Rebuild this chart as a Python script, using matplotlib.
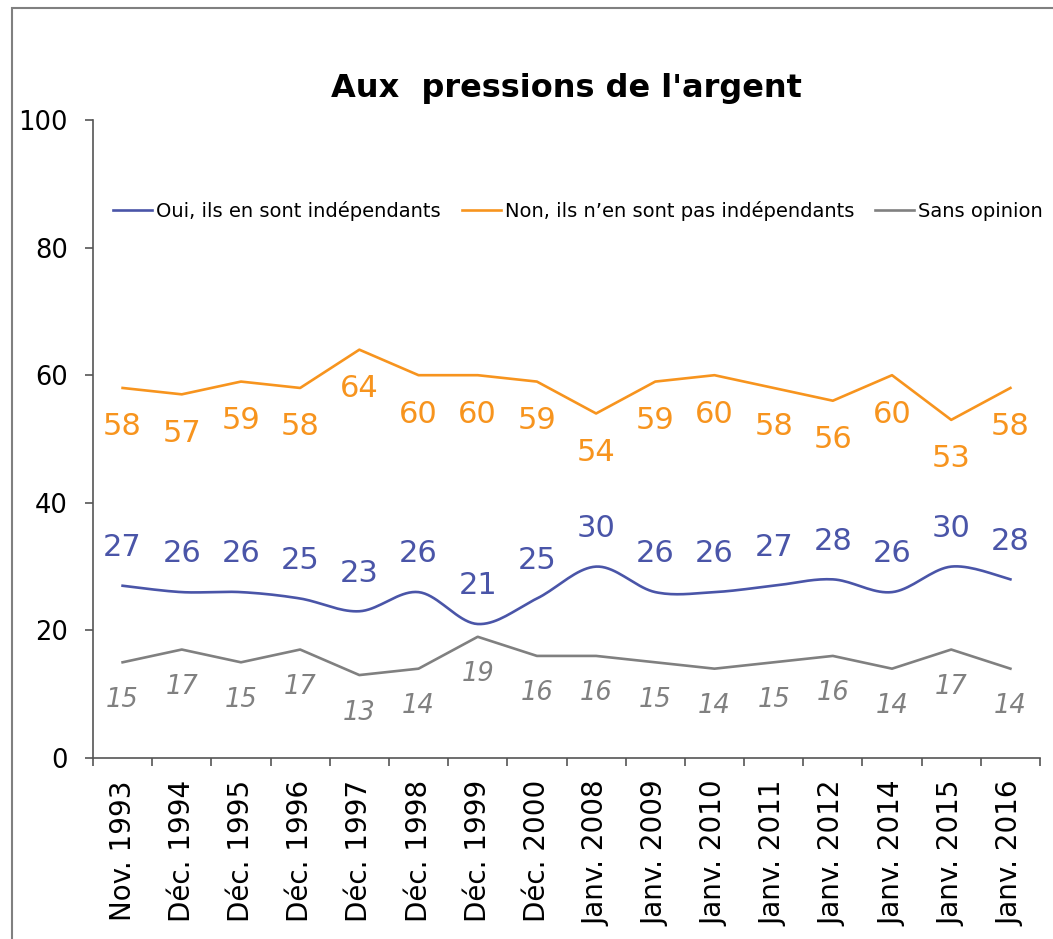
import numpy as np
import matplotlib
matplotlib.use('Agg')
import matplotlib.pyplot as plt
from matplotlib.patches import Rectangle

# données
categories = ['Nov. 1993', 'Déc. 1994', 'Déc. 1995', 'Déc. 1996', 'Déc. 1997',
              'Déc. 1998', 'Déc. 1999', 'Déc. 2000', 'Janv. 2008', 'Janv. 2009',
              'Janv. 2010', 'Janv. 2011', 'Janv. 2012', 'Janv. 2014', 'Janv. 2015',
              'Janv. 2016']
oui = [27, 26, 26, 25, 23, 26, 21, 25, 30, 26, 26, 27, 28, 26, 30, 28]
non = [58, 57, 59, 58, 64, 60, 60, 59, 54, 59, 60, 58, 56, 60, 53, 58]
sans = [15, 17, 15, 17, 13, 14, 19, 16, 16, 15, 14, 15, 16, 14, 17, 14]

labels = ['Oui, ils en sont indépendants', 'Non, ils n\u2019en sont pas indépendants',
          'Sans opinion']
c_blue = '#4a55a8'
c_orange = '#f7941e'
c_grey = '#808080'


def smooth(x, y, n=20):
    # catmull-rom, comme la courbe lissée d'excel
    x = np.asarray(x, float)
    y = np.asarray(y, float)
    px = np.concatenate([[x[0]], x, [x[-1]]])
    py = np.concatenate([[y[0]], y, [y[-1]]])
    xs, ys = [], []
    for i in range(1, len(px) - 2):
        t = np.linspace(0, 1, n)
        p0, p1, p2, p3 = px[i-1], px[i], px[i+1], px[i+2]
        q0, q1, q2, q3 = py[i-1], py[i], py[i+1], py[i+2]
        b1x = p1 + (p2 - p0) / 6
        b2x = p2 - (p3 - p1) / 6
        b1y = q1 + (q2 - q0) / 6
        b2y = q2 - (q3 - q1) / 6
        xs.append((1-t)**3*p1 + 3*(1-t)**2*t*b1x + 3*(1-t)*t**2*b2x + t**3*p2)
        ys.append((1-t)**3*q1 + 3*(1-t)**2*t*b1y + 3*(1-t)*t**2*b2y + t**3*q2)
    return np.concatenate(xs), np.concatenate(ys)


fig = plt.figure(figsize=(10.53, 9.39), dpi=100)
ax = fig.add_axes([93/1053, 1-758/939, (1040-93)/1053, (758-120)/939])

x = np.arange(len(categories))
sx, sy = smooth(x, oui)
ax.plot(sx, sy, color=c_blue, lw=1.9, label=labels[0])
ax.plot(x, non, color=c_orange, lw=1.9, label=labels[1])
ax.plot(x, sans, color=c_grey, lw=1.9, label=labels[2])

for i in range(len(x)):
    ax.annotate(str(oui[i]), (x[i], oui[i]), xytext=(0, 27.5), textcoords='offset points',
                ha='center', va='center', fontsize=22, color=c_blue)
    ax.annotate(str(non[i]), (x[i], non[i]), xytext=(0, -28), textcoords='offset points',
                ha='center', va='center', fontsize=22, color=c_orange)
    ax.annotate(str(sans[i]), (x[i], sans[i]), xytext=(0, -27), textcoords='offset points',
                ha='center', va='center', fontsize=18.5, color=c_grey, style='italic')

ax.set_xlim(-0.5, len(categories) - 0.5)
ax.set_ylim(0, 100)
ax.set_yticks([0, 20, 40, 60, 80, 100])
ax.set_xticks(x)
ax.set_xticklabels(categories, rotation=90)
ax.set_xticks(np.arange(len(categories) + 1) - 0.5, minor=True)
ax.tick_params(axis='x', which='major', length=0, pad=16, labelsize=20)
ax.tick_params(axis='x', which='minor', length=6, width=1.2, color='#555555')
ax.tick_params(axis='y', length=6, width=1.2, color='#555555', pad=12, labelsize=18.5)
for s in ['top', 'right']:
    ax.spines[s].set_visible(False)
for s in ['left', 'bottom']:
    ax.spines[s].set_color('#555555')
    ax.spines[s].set_linewidth(1.2)

fig.text(566/1053, 1-89/939, "Aux  pressions de l'argent", ha='center', va='center',
         fontsize=23, fontweight='bold')

fig.legend(loc='center', bbox_to_anchor=(578/1053, 1-211/939), ncol=3, frameon=False,
           fontsize=14, handlelength=2.0, handletextpad=0.2, columnspacing=1.1)

# cadre
fig.patches.append(Rectangle((12/1053, -0.1), 2, 1.1 - 8/939, transform=fig.transFigure,
                             fill=False, ec='#808080', lw=1.5))

fig.savefig('out.png', dpi=100)
